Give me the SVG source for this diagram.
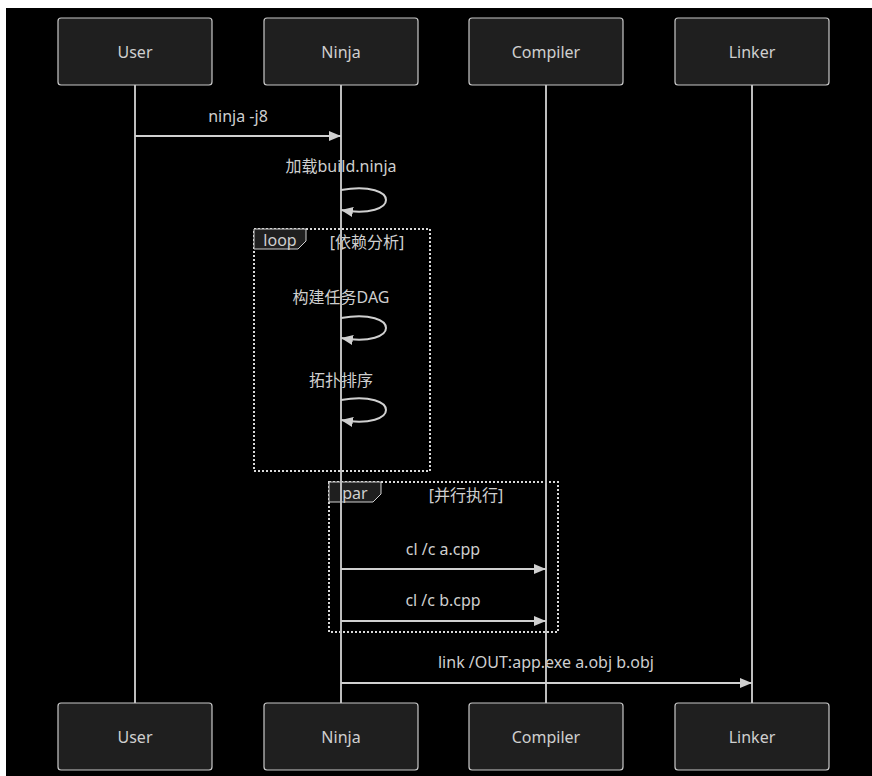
<svg xmlns="http://www.w3.org/2000/svg" width="872" height="776" viewBox="0 0 872 776">
<defs>
<style>
.bg{fill:#000}
.actor rect{fill:#1f1f1f;stroke:#c8c8c8;stroke-width:1.2}
.actor text,.lbl{fill:#cfcfcf;font-family:"Noto Sans","Liberation Sans","Noto Sans CJK SC",sans-serif;font-size:16px;text-anchor:middle;dominant-baseline:central}
.life{stroke:#bdbdbd;stroke-width:2;fill:none}
.msg{stroke:#d0d0d0;stroke-width:2;fill:none}
.frame{fill:none;stroke:#d8d8d8;stroke-width:2;stroke-dasharray:2 2}
.tag{fill:#1f1f1f;stroke:#d0d0d0;stroke-width:1}
</style>
<marker id="ah" viewBox="0 0 12 10" refX="12" refY="5" markerWidth="12" markerHeight="10" markerUnits="userSpaceOnUse" orient="auto">
<path d="M0,0 L12,5 L0,10 z" fill="#d0d0d0"/>
</marker>
</defs>
<rect x="0" y="0" width="872" height="776" fill="#fff"/>
<rect class="bg" x="6" y="8" width="866" height="768"/>

<g id="frames">
<rect class="frame" x="254" y="229" width="176" height="242"/>
<path class="tag" d="M254,229 H306 V241 L298,249 H254 Z"/>
<text class="lbl" x="280" y="240">loop</text>
<text class="lbl" x="367" y="242">[依赖分析]</text>
<rect class="frame" x="329" y="482" width="229" height="150"/>
<path class="tag" d="M329,482 H381 V494 L373,502 H329 Z"/>
<text class="lbl" x="355" y="493">par</text>
<text class="lbl" x="466" y="495">[并行执行]</text>
</g>

<g id="labels">
<text class="lbl" x="238" y="116">ninja -j8</text>
<text class="lbl" x="341" y="166">加载build.ninja</text>
<text class="lbl" x="341" y="297">构建任务DAG</text>
<text class="lbl" x="341" y="380">拓扑排序</text>
<text class="lbl" x="443" y="549">cl /c a.cpp</text>
<text class="lbl" x="443" y="600">cl /c b.cpp</text>
<text class="lbl" x="546" y="662">link /OUT:app.exe a.obj b.obj</text>
</g>

<g id="lifelines">
<line class="life" x1="135" y1="85" x2="135" y2="703"/>
<line class="life" x1="341" y1="85" x2="341" y2="703"/>
<line class="life" x1="546" y1="85" x2="546" y2="703"/>
<line class="life" x1="752" y1="85" x2="752" y2="703"/>
</g>

<g id="connectors">
<line class="msg" x1="135" y1="136" x2="341" y2="136" marker-end="url(#ah)"/>
<path class="msg" d="M341,190 C401,180 401,220 341,210" marker-end="url(#ah)"/>
<path class="msg" d="M341,318 C401,308 401,348 341,338" marker-end="url(#ah)"/>
<path class="msg" d="M341,400 C401,390 401,430 341,420" marker-end="url(#ah)"/>
<line class="msg" x1="341" y1="569" x2="546" y2="569" marker-end="url(#ah)"/>
<line class="msg" x1="341" y1="621" x2="546" y2="621" marker-end="url(#ah)"/>
<line class="msg" x1="341" y1="683" x2="752" y2="683" marker-end="url(#ah)"/>
</g>

<g id="user-top" class="actor"><rect x="58" y="18" width="154" height="67" rx="3"/><text x="135" y="52">User</text></g>
<g id="ninja-top" class="actor"><rect x="264" y="18" width="154" height="67" rx="3"/><text x="341" y="52">Ninja</text></g>
<g id="compiler-top" class="actor"><rect x="469" y="18" width="154" height="67" rx="3"/><text x="546" y="52">Compiler</text></g>
<g id="linker-top" class="actor"><rect x="675" y="18" width="154" height="67" rx="3"/><text x="752" y="52">Linker</text></g>

<g id="user-bottom" class="actor"><rect x="58" y="703" width="154" height="67" rx="3"/><text x="135" y="737">User</text></g>
<g id="ninja-bottom" class="actor"><rect x="264" y="703" width="154" height="67" rx="3"/><text x="341" y="737">Ninja</text></g>
<g id="compiler-bottom" class="actor"><rect x="469" y="703" width="154" height="67" rx="3"/><text x="546" y="737">Compiler</text></g>
<g id="linker-bottom" class="actor"><rect x="675" y="703" width="154" height="67" rx="3"/><text x="752" y="737">Linker</text></g>
</svg>
